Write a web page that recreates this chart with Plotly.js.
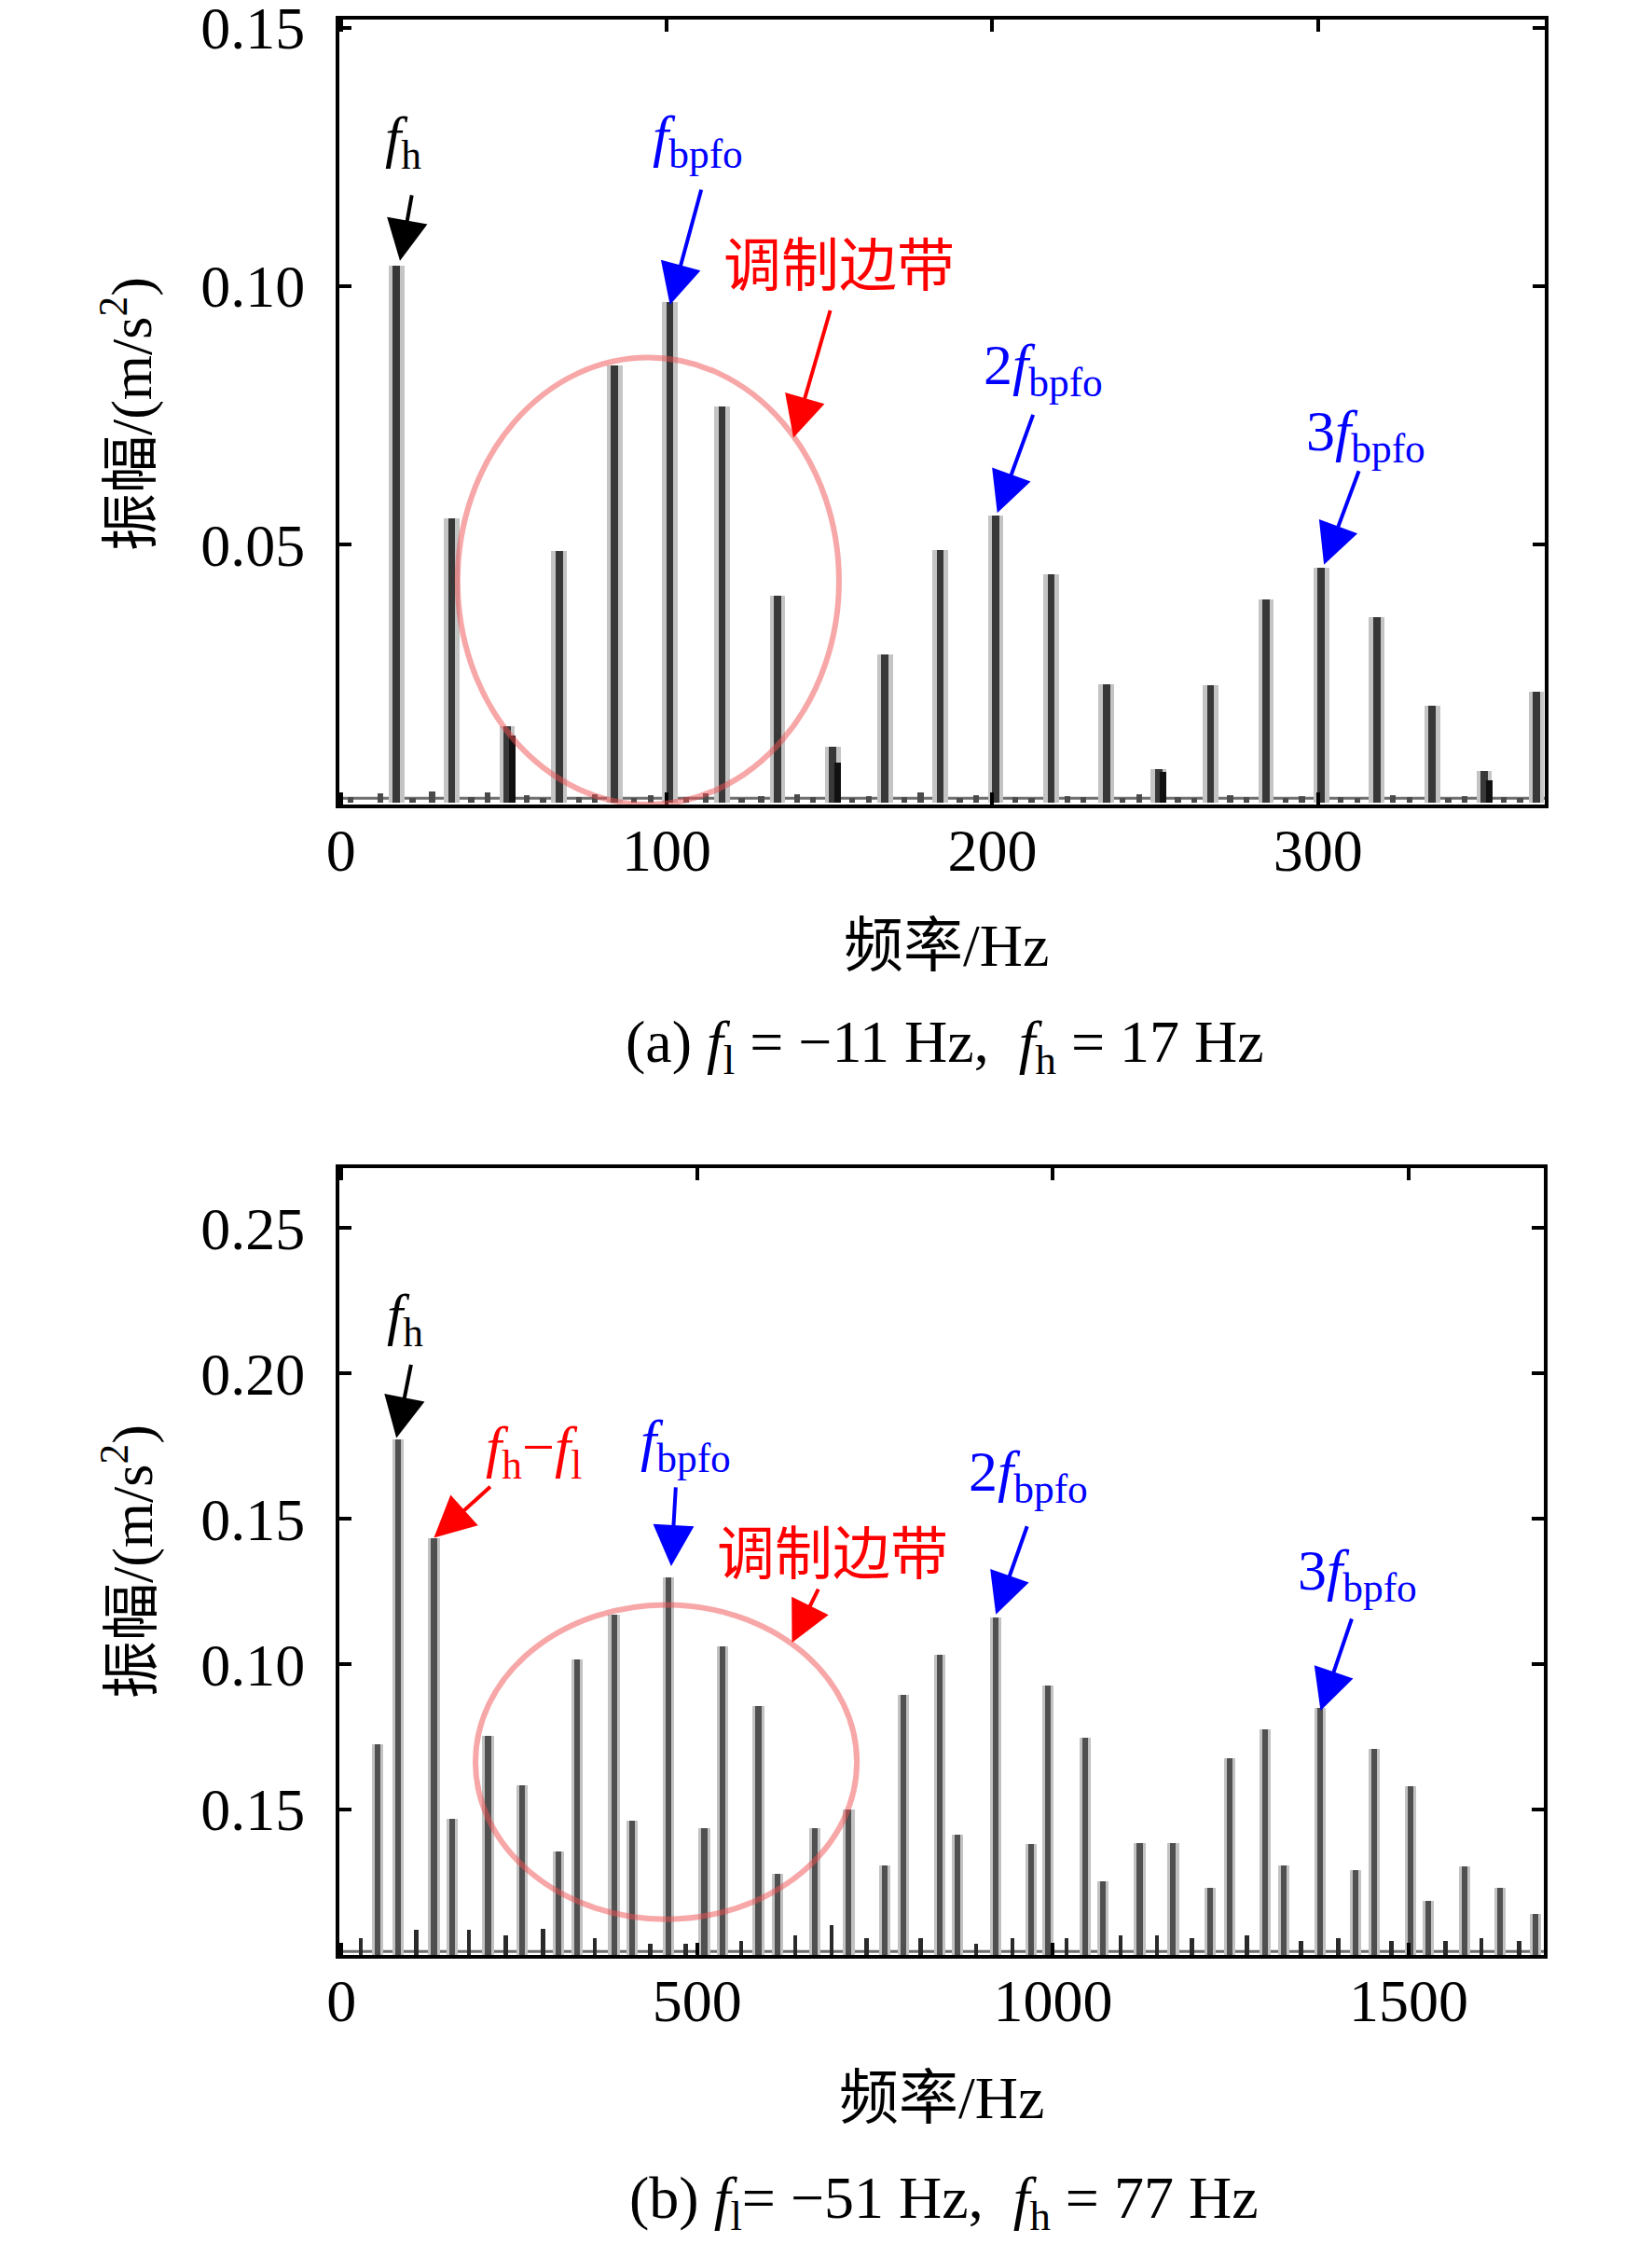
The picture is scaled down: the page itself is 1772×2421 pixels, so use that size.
<!DOCTYPE html>
<html><head><meta charset="utf-8">
<script src="https://cdn.plot.ly/plotly-3.0.1.min.js"></script>
<style>html,body{margin:0;padding:0;background:#fff}#g{width:1772px;height:2421px}</style>
</head><body><div id="g"></div>
<script>
// ---------- data: panel (a) ----------
const aFreq = [17, 34, 51, 67, 84, 101, 117, 134, 151, 167, 184, 201, 218, 235, 251, 267, 284, 301, 318, 335, 351, 367];
const aAmp  = [0.1039, 0.0551, 0.0148, 0.0487, 0.0846, 0.0969, 0.0767, 0.0401, 0.0109, 0.0287, 0.0490, 0.0556, 0.0442, 0.0230, 0.0065, 0.0228, 0.0394, 0.0456, 0.0360, 0.0188, 0.0062, 0.0215];
const aSideFreq = [52.5, 152.5, 252.5, 352.5];
const aSideAmp  = [0.0130, 0.0078, 0.0060, 0.0044];
const aNoiseFreq = [3, 12, 22, 28, 40, 45, 57, 62, 73, 78, 90, 95, 106, 112, 123, 129, 140, 145, 157, 162, 173, 178, 190, 195, 207, 212, 223, 228, 240, 245, 257, 262, 273, 278, 290, 295, 307, 312, 323, 328, 340, 345, 357, 362];
const aNoiseAmp  = [0.0012, 0.0018, 0.0010, 0.0022, 0.0012, 0.0020, 0.0015, 0.0010, 0.0012, 0.0016, 0.0010, 0.0015, 0.0012, 0.0018, 0.0010, 0.0014, 0.0016, 0.0012, 0.0010, 0.0014, 0.0012, 0.0020, 0.0010, 0.0015, 0.0012, 0.0010, 0.0014, 0.0012, 0.0010, 0.0016, 0.0012, 0.0010, 0.0015, 0.0012, 0.0010, 0.0014, 0.0012, 0.0010, 0.0015, 0.0012, 0.0010, 0.0013, 0.0012, 0.0010];
const aXTicks = [0, 100, 200, 300];
const aYTicks = [0.05, 0.10, 0.15];
const aYTickText = ['0.05', '0.10', '0.15'];

// ---------- data: panel (b) ----------
const bFreq = [51, 80, 130, 156, 206, 254, 305, 331, 383, 408, 460, 510, 536, 586, 613, 665, 713, 764, 790, 841, 866, 919, 969, 993, 1045, 1070, 1122, 1169, 1221, 1248, 1298, 1324, 1376, 1425, 1452, 1503, 1528, 1579, 1628, 1678];
const bAmp  = [0.0726, 0.1774, 0.1434, 0.0469, 0.0752, 0.0583, 0.0357, 0.1015, 0.1171, 0.0463, 0.1300, 0.0436, 0.1061, 0.0855, 0.0279, 0.0436, 0.0500, 0.0307, 0.0895, 0.1033, 0.0414, 0.1162, 0.0380, 0.0928, 0.0748, 0.0252, 0.0384, 0.0384, 0.0230, 0.0678, 0.0776, 0.0307, 0.0849, 0.0292, 0.0708, 0.0579, 0.0187, 0.0303, 0.0230, 0.0141];
const bMinorFreq = [27, 105, 179, 201, 231, 250, 283, 356, 434, 484, 562, 638, 660, 689, 738, 814, 892, 943, 1019, 1095, 1146, 1195, 1273, 1349, 1401, 1476, 1552, 1602, 1655];
const bMinorAmp  = [0.0059, 0.0086, 0.0086, 0.0112, 0.0068, 0.0125, 0.0090, 0.0059, 0.0040, 0.0040, 0.0049, 0.0068, 0.0075, 0.0104, 0.0059, 0.0059, 0.0040, 0.0059, 0.0059, 0.0068, 0.0068, 0.0059, 0.0068, 0.0049, 0.0059, 0.0049, 0.0049, 0.0059, 0.0049];
const bXTicks = [0, 500, 1000, 1500];
const bYTicks = [0.05, 0.10, 0.15, 0.20, 0.25];
const bYTickText = ['0.15', '0.10', '0.15', '0.20', '0.25'];

// ---------- layout helpers ----------
const W = 1772, H = 2421;
const px = v => v / W, py = v => 1 - v / H;
const SERIF = '"Liberation Serif", "Times New Roman", "Noto Sans CJK SC", serif';
const CJK = '"Liberation Serif", "Noto Sans CJK SC", serif';
const BLUE = '#0000ff', RED = '#ff0000', BLACK = '#000000';

function bar(x, y, w, color, xa, ya) {
  return {type: 'bar', x: x, y: y, width: w, xaxis: xa, yaxis: ya,
          marker: {color: color, line: {width: 0}}, hoverinfo: 'skip', showlegend: false};
}

const traces = [
  bar(aNoiseFreq, aNoiseAmp, 1.8, '#4a4a4a', 'x', 'y'),
  bar(aFreq, aAmp, 4.8, '#c4c4c4', 'x', 'y'),
  bar(aFreq, aAmp, 2.2, '#383838', 'x', 'y'),
  bar(aSideFreq, aSideAmp, 2.0, '#111111', 'x', 'y'),
  bar(bMinorFreq, bMinorAmp, 6, '#2a2a2a', 'x2', 'y2'),
  bar(bFreq, bAmp, 16, '#c2c2c2', 'x2', 'y2'),
  bar(bFreq, bAmp, 8, '#505050', 'x2', 'y2')
];

const axisCommon = {
  showline: true, linecolor: '#000', linewidth: 4, mirror: 'ticks',
  ticks: 'inside', ticklen: 13, tickwidth: 4, tickcolor: '#000',
  showgrid: false, zeroline: false, tickmode: 'array', ticklabeloverflow: 'allow',
  tickfont: {family: SERIF, size: 64, color: '#000'}
};

function txt(text, x, y, color, size, extra) {
  return Object.assign({text: text, xref: 'paper', yref: 'paper', x: px(x), y: py(y),
    xanchor: 'center', yanchor: 'middle', showarrow: false,
    font: {family: CJK, size: size, color: color}}, extra || {});
}
function arrow(xref, yref, x, y, ax, ay, color) {
  return {text: '', xref: xref, yref: yref, x: x, y: y, ax: ax, ay: ay,
    axref: 'pixel', ayref: 'pixel', showarrow: true, arrowhead: 2, arrowsize: 2.2,
    arrowwidth: 4, arrowcolor: color, standoff: 0};
}

const F = '<i>f</i>';
const annotations = [
  // panel (a)
  txt(F + '<sub>h</sub>', 432, 151, BLACK, 62),
  txt(F + '<sub>bpfo</sub>', 748, 150, BLUE, 62),
  txt('调制边带', 900, 286, RED, 62),
  txt('2' + F + '<sub>bpfo</sub>', 1119, 396, BLUE, 62),
  txt('3' + F + '<sub>bpfo</sub>', 1465, 466, BLUE, 62),
  arrow('x', 'y', 18.1, 0.1049, 13, -72, BLACK),
  arrow('x', 'y', 101.0, 0.0964, 34, -125, BLUE),
  arrow('x', 'y', 138.9, 0.0707, 40, -138, RED),
  arrow('x', 'y', 201.5, 0.0561, 39, -107, BLUE),
  arrow('x', 'y', 301.8, 0.0461, 38, -102, BLUE),
  // panel (b)
  txt(F + '<sub>h</sub>', 434, 1415, BLACK, 62),
  txt(F + '<sub>h</sub>−' + F + '<sub>l</sub>', 572, 1556, RED, 62),
  txt(F + '<sub>bpfo</sub>', 735, 1549, BLUE, 62),
  txt('调制边带', 893, 1668, RED, 62),
  txt('2' + F + '<sub>bpfo</sub>', 1103, 1582, BLUE, 62),
  txt('3' + F + '<sub>bpfo</sub>', 1456, 1688, BLUE, 62),
  arrow('x2', 'y2', 77.2, 0.1778, 16, -80, BLACK),
  arrow('x2', 'y2', 129.9, 0.1435, 62, -56, RED),
  arrow('x2', 'y2', 463.4, 0.1337, 5, -86, BLUE),
  arrow('x2', 'y2', 633.2, 0.1074, 29, -59, RED),
  arrow('x2', 'y2', 919.8, 0.1171, 34, -96, BLUE),
  arrow('x2', 'y2', 1376.1, 0.0840, 34, -100, BLUE),
  // axis titles and captions
  txt('振幅/(m/s<sup>2</sup>)', 137, 444, BLACK, 62, {textangle: -90}),
  txt('振幅/(m/s<sup>2</sup>)', 137, 1675, BLACK, 62, {textangle: -90}),
  txt('频率/Hz', 1015, 1014, BLACK, 64),
  txt('频率/Hz', 1010, 2250, BLACK, 64),
  txt('(a) ' + F + '<sub>l</sub> = −11 Hz,  ' + F + '<sub>h</sub> = 17 Hz', 1013, 1122, BLACK, 64),
  txt('(b) ' + F + '<sub>l</sub>= −51 Hz,  ' + F + '<sub>h</sub> = 77 Hz', 1012, 2362, BLACK, 64)
];

const ellipseLine = {color: 'rgba(240,80,80,0.5)', width: 6};
const shapes = [
  {type: 'line', xref: 'x', yref: 'y', x0: 0, x1: 369.6, y0: 0.0009, y1: 0.0009, line: {color: '#6e6e6e', width: 3}, layer: 'below'},
  {type: 'line', xref: 'x2', yref: 'y2', x0: 0, x1: 1690, y0: 0.0012, y1: 0.0012, line: {color: '#6e6e6e', width: 3}, layer: 'below'},
  {type: 'circle', xref: 'x', yref: 'y', x0: 35.8, x1: 152.9, y0: -0.0003, y1: 0.0862, line: ellipseLine, layer: 'above'},
  {type: 'circle', xref: 'x2', yref: 'y2', x0: 188.3, x1: 724.4, y0: 0.0123, y1: 0.1204, line: ellipseLine, layer: 'above'}
];

const layout = {
  width: W, height: H, margin: {l: 0, r: 0, t: 0, b: 0},
  paper_bgcolor: '#fff', plot_bgcolor: '#fff', barmode: 'overlay', bargap: 0,
  showlegend: false, hovermode: false,
  xaxis: Object.assign({}, axisCommon, {domain: [px(364), px(1657)], anchor: 'y', range: [-0.5, 369.6],
    tickvals: aXTicks, ticktext: aXTicks.map(String), ticklabelstandoff: -10}),
  yaxis: Object.assign({}, axisCommon, {domain: [py(863), py(21)], anchor: 'x', range: [-0.0003, 0.1516],
    tickvals: aYTicks, ticktext: aYTickText, ticklabelstandoff: 20}),
  xaxis2: Object.assign({}, axisCommon, {domain: [px(364), px(1656)], anchor: 'y2', range: [-3, 1690],
    tickvals: bXTicks, ticktext: bXTicks.map(String), ticklabelstandoff: -10}),
  yaxis2: Object.assign({}, axisCommon, {domain: [py(2097), py(1253)], anchor: 'x2', range: [0, 0.2706],
    tickvals: bYTicks, ticktext: bYTickText, ticklabelstandoff: 20}),
  annotations: annotations, shapes: shapes
};

Plotly.newPlot('g', traces, layout, {staticPlot: true, displayModeBar: false});
</script></body></html>
